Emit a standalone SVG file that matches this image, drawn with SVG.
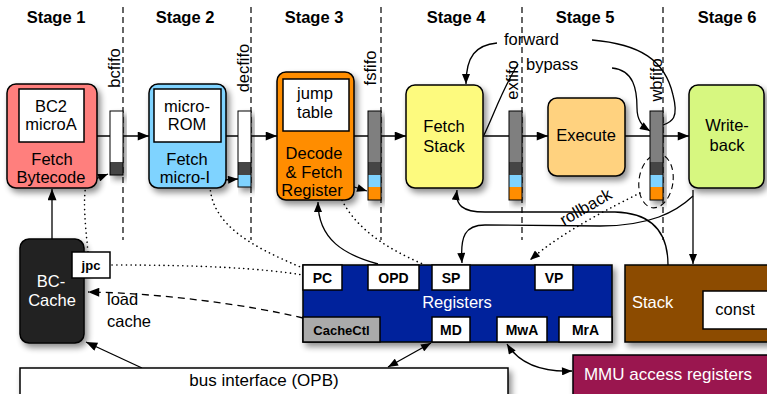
<svg xmlns="http://www.w3.org/2000/svg" width="767" height="394" viewBox="0 0 767 394">
<style>
.t{font-family:"Liberation Sans",Arial,sans-serif;font-size:16.5px;text-anchor:middle;fill:#000}
.w{fill:#fff}
.b{font-weight:bold}
.s{font-size:14px}
.ln{fill:none;stroke:#000;stroke-width:1.3}
.dot{fill:none;stroke:#000;stroke-width:1.6;stroke-dasharray:0.1,4.6;stroke-linecap:round}
.stg{fill:none;stroke:#000;stroke-width:1.2;stroke-dasharray:6,4}
.box{stroke:#000;stroke-width:1.5}
.wb{fill:#fff;stroke:#000;stroke-width:1.5}
.ff{stroke:#000;stroke-width:1}
</style>
<defs>
<marker id="ah" viewBox="0 0 10 8" refX="10" refY="4" markerWidth="13" markerHeight="9" markerUnits="userSpaceOnUse" orient="auto-start-reverse"><path d="M0,0 L10,4 L0,8 z" fill="#000"/></marker>
<marker id="as" viewBox="0 0 10 8" refX="10" refY="4" markerWidth="11" markerHeight="8" markerUnits="userSpaceOnUse" orient="auto-start-reverse"><path d="M0,0 L10,4 L0,8 z" fill="#000"/></marker>
<filter id="sh" x="-20%" y="-20%" width="150%" height="150%">
<feGaussianBlur in="SourceAlpha" stdDeviation="3"/>
<feOffset dx="3" dy="4"/>
<feComponentTransfer><feFuncA type="linear" slope="0.45"/></feComponentTransfer>
<feMerge><feMergeNode/><feMergeNode in="SourceGraphic"/></feMerge>
</filter>
</defs>
<rect width="767" height="394" fill="#fff"/>

<g id="stages">
<text class="t b" x="56" y="23">Stage 1</text>
<text class="t b" x="185" y="23">Stage 2</text>
<text class="t b" x="314" y="23">Stage 3</text>
<text class="t b" x="456" y="23">Stage 4</text>
<text class="t b" x="585" y="23">Stage 5</text>
<text class="t b" x="727" y="23">Stage 6</text>
<path class="stg" d="M123 7V240M251 7V240M381 7V240M522 7V240M663 7V240"/>
</g>

<g id="connectors">
<path class="ln" d="M97 136H149" marker-end="url(#ah)"/>
<path class="ln" d="M226 136H277" marker-end="url(#ah)"/>
<path class="ln" d="M354 136H406" marker-end="url(#ah)"/>
<path class="ln" d="M483 136H548" marker-end="url(#ah)"/>
<path class="ln" d="M625 136H689" marker-end="url(#ah)"/>
<path class="ln" d="M93 180L108 174" marker-end="url(#as)"/>
<path class="ln" d="M224 180L238 179" marker-end="url(#as)"/>
<path class="ln" d="M351 186L367 191" marker-end="url(#as)"/>
<path class="ln" d="M497 43C476 45 466 56 466 84" marker-end="url(#as)"/>
<path class="ln" d="M592 40C640 44 665 60 673 95C679 118 672 122 663 125"/>
<path class="ln" d="M484 135C494 114 503 88 518 64"/>
<path class="ln" d="M612 68C634 70 637 90 637 108C637 120 642 126 650 131" marker-end="url(#as)"/>
<path class="ln" d="M668 265C668 236 656 213 615 212L485 212C462 212 455 205 457 190" marker-end="url(#as)"/>
<path class="ln" d="M693 196C676 212 650 226 600 226L485 225C465 225 460 236 462 263" marker-end="url(#as)"/>
<path class="ln" d="M693 190V264" marker-end="url(#as)"/>
<path class="ln" d="M378 264C345 255 318 240 318 202" marker-end="url(#as)"/>
<path class="ln" d="M52 239V189" stroke="#222" stroke-width="2" fill="none" marker-end="url(#ah)"/>
<path class="ln" d="M142 368L86 342" marker-end="url(#ah)"/>
<path class="ln" d="M303 318C250 305 160 293 88 292" stroke-dasharray="7,5" marker-end="url(#ah)"/>
<path class="ln" d="M388 367L431 343" marker-start="url(#as)" marker-end="url(#as)"/>
<path class="ln" d="M507 344C520 365 545 372 572 371" marker-start="url(#as)" marker-end="url(#as)"/>
<path class="dot" d="M88 252C85 222 83 200 86 185"/>
<path class="dot" d="M112 265C200 265 260 268 303 275"/>
<path class="dot" d="M210 186C212 225 252 247 303 268"/>
<path class="dot" d="M340 196C355 230 390 250 425 265"/>
<path class="dot" d="M640 193C610 208 562 232 530 260" marker-end="url(#as)"/>
<ellipse cx="656" cy="181" rx="17" ry="27" transform="rotate(8 656 181)" fill="none" stroke="#000" stroke-width="1.1" stroke-dasharray="6,4"/>
<text class="t" x="504" y="45" style="text-anchor:start">forward</text>
<text class="t" x="526" y="70" style="text-anchor:start">bypass</text>
<text class="t" x="564" y="226" transform="rotate(-30 564 226)" style="text-anchor:start">rollback</text>
<text class="t" x="107" y="305" style="text-anchor:start">load</text>
<text class="t" x="107" y="327" style="text-anchor:start">cache</text>
</g>

<g id="bcfifo" filter="url(#sh)">
<rect x="110" y="111" width="13" height="51" fill="#fff"/>
<rect x="110" y="162" width="13" height="13" fill="#444"/>
<rect class="ff" x="110" y="111" width="13" height="64" fill="none"/>
</g>
<text class="t" transform="translate(120 68) rotate(-90)">bcfifo</text>
<g id="decfifo" filter="url(#sh)">
<rect x="238" y="111" width="13" height="51" fill="#fff"/>
<rect x="238" y="162" width="13" height="13" fill="#444"/>
<rect x="238" y="175" width="13" height="12" fill="#7fd3ff"/>
<rect class="ff" x="238" y="111" width="13" height="76" fill="none"/>
</g>
<text class="t" transform="translate(249 68) rotate(-90)">decfifo</text>
<g id="fsfifo" filter="url(#sh)">
<rect x="368" y="111" width="13" height="51" fill="#7f7f7f"/>
<rect x="368" y="162" width="13" height="13" fill="#444"/>
<rect x="368" y="175" width="13" height="12" fill="#7fd3ff"/>
<rect x="368" y="187" width="13" height="13" fill="#ff8d00"/>
<rect class="ff" x="368" y="111" width="13" height="89" fill="none"/>
</g>
<text class="t" transform="translate(376 68) rotate(-90)">fsfifo</text>
<g id="exfifo" filter="url(#sh)">
<rect x="509" y="111" width="13" height="51" fill="#7f7f7f"/>
<rect x="509" y="162" width="13" height="13" fill="#444"/>
<rect x="509" y="175" width="13" height="12" fill="#7fd3ff"/>
<rect x="509" y="187" width="13" height="13" fill="#ff8d00"/>
<rect class="ff" x="509" y="111" width="13" height="89" fill="none"/>
</g>
<text class="t" transform="translate(518 80) rotate(-90)">exfifo</text>
<g id="wbfifo" filter="url(#sh)">
<rect x="650" y="111" width="13" height="51" fill="#7f7f7f"/>
<rect x="650" y="162" width="13" height="13" fill="#444"/>
<rect x="650" y="175" width="13" height="12" fill="#7fd3ff"/>
<rect x="650" y="187" width="13" height="13" fill="#ff8d00"/>
<rect class="ff" x="650" y="111" width="13" height="89" fill="none"/>
</g>
<text class="t" transform="translate(662 80) rotate(-90)">wbfifo</text>

<g id="fetch-bytecode">
<rect class="box" x="7" y="84" width="90" height="104" rx="9" fill="#ff7f7d" filter="url(#sh)"/>
<rect class="wb" x="19" y="89" width="65" height="53"/>
<text class="t" x="51" y="112">BC2</text>
<text class="t" x="51" y="130">microA</text>
<text class="t" x="52" y="165">Fetch</text>
<text class="t" x="51" y="183">Bytecode</text>
</g>
<g id="fetch-micro">
<rect class="box" x="149" y="84" width="77" height="104" rx="9" fill="#7fd3ff" filter="url(#sh)"/>
<rect class="wb" x="154" y="89" width="67" height="53"/>
<text class="t" x="187" y="112">micro-</text>
<text class="t" x="187" y="130">ROM</text>
<text class="t" x="187" y="165">Fetch</text>
<text class="t" x="185" y="183">micro-I</text>
</g>
<g id="decode">
<rect class="box" x="277" y="72" width="77" height="128" rx="9" fill="#ff8d00" filter="url(#sh)"/>
<rect class="wb" x="283" y="79" width="66" height="52"/>
<text class="t" x="315" y="99">jump</text>
<text class="t" x="315" y="118">table</text>
<text class="t" x="314" y="159">Decode</text>
<text class="t" x="314" y="178">&amp; Fetch</text>
<text class="t" x="312" y="196">Register</text>
</g>
<g id="fetch-stack">
<rect class="box" x="406" y="85" width="77" height="103" rx="9" fill="#fdfa7e" filter="url(#sh)"/>
<text class="t" x="444" y="132">Fetch</text>
<text class="t" x="444" y="152">Stack</text>
</g>
<g id="execute">
<rect class="box" x="548" y="98" width="77" height="78" rx="9" fill="#ffd27f" filter="url(#sh)"/>
<text class="t" x="586" y="141">Execute</text>
</g>
<g id="writeback">
<rect class="box" x="689" y="85" width="75" height="103" rx="9" fill="#d7f780" filter="url(#sh)"/>
<text class="t" x="727" y="131">Write-</text>
<text class="t" x="727" y="151">back</text>
</g>
<g id="bc-cache">
<rect class="box" x="20" y="239" width="64" height="104" rx="9" fill="#222" filter="url(#sh)"/>
<text class="t w" x="51" y="287">BC-</text>
<text class="t w" x="52" y="306">Cache</text>
<rect class="wb" x="72" y="252" width="38" height="26"/>
<text class="t b" x="91" y="270" style="font-size:13px">jpc</text>
</g>
<g id="registers">
<rect class="box" x="303" y="265" width="309" height="77" fill="#00209c" filter="url(#sh)"/>
<text class="t w" x="457" y="308">Registers</text>
<rect class="wb" x="303" y="265" width="39" height="25"/>
<text class="t b s" x="322.5" y="283">PC</text>
<rect class="wb" x="368" y="265" width="51" height="25"/>
<text class="t b s" x="393.5" y="283">OPD</text>
<rect class="wb" x="432" y="265" width="38" height="25"/>
<text class="t b s" x="451" y="283">SP</text>
<rect class="wb" x="535" y="265" width="38" height="25"/>
<text class="t b s" x="554" y="283">VP</text>
<rect x="303" y="317" width="77" height="25" fill="#aaa" stroke="#000" stroke-width="1.5"/>
<text class="t b" x="341.5" y="335" style="font-size:13px">CacheCtl</text>
<rect class="wb" x="432" y="317" width="38" height="25"/>
<text class="t b s" x="451" y="335">MD</text>
<rect class="wb" x="497" y="317" width="50" height="25"/>
<text class="t b s" x="522" y="335">MwA</text>
<rect class="wb" x="559" y="317" width="53" height="25"/>
<text class="t b s" x="585.5" y="335">MrA</text>
</g>
<g id="stack">
<rect class="box" x="625" y="265" width="146" height="77" fill="#8c4c00" filter="url(#sh)"/>
<text class="t w" x="632" y="308" style="text-anchor:start">Stack</text>
<rect class="wb" x="703" y="291" width="66" height="38"/>
<text class="t" x="735" y="315">const</text>
</g>
<g id="mmu">
<rect class="box" x="573" y="355" width="198" height="45" fill="#9a1850" filter="url(#sh)"/>
<text class="t w" x="668" y="380" style="font-size:17px">MMU access registers</text>
</g>
<g id="bus">
<rect class="box" x="20" y="368" width="488" height="32" fill="#fff" filter="url(#sh)"/>
<text class="t" x="264" y="386" style="font-size:17px">bus interface (OPB)</text>
</g>
</svg>
